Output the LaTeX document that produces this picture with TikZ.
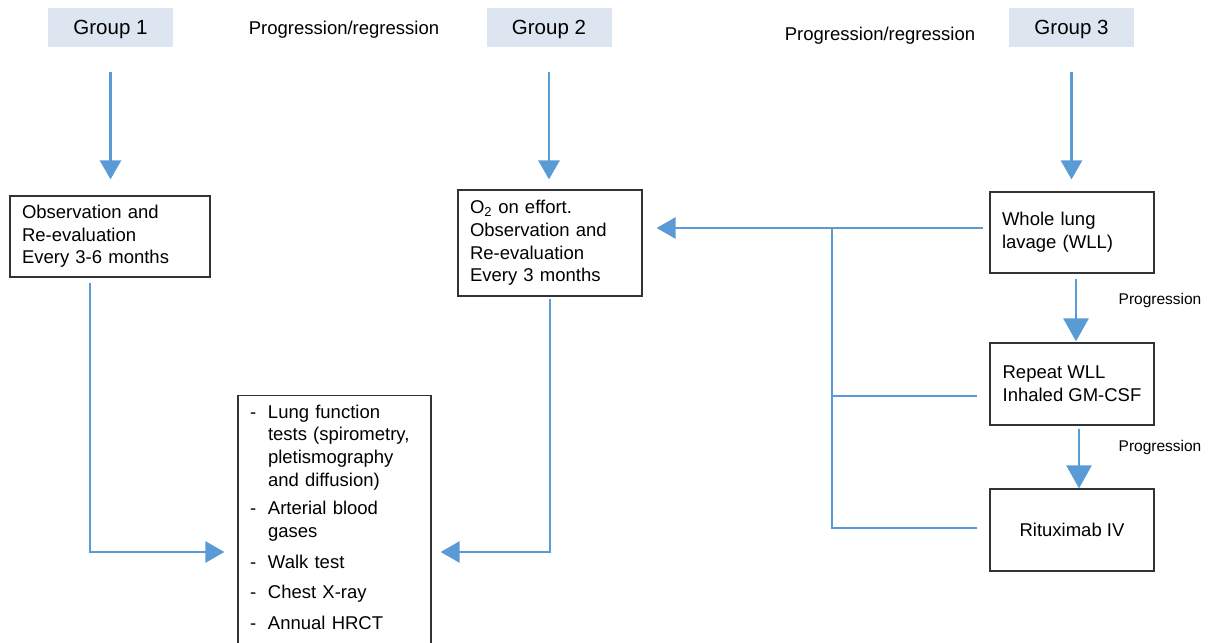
\documentclass[tikz,border=0pt]{standalone}
\usepackage{fontspec}
\setmainfont{Liberation Sans}
\usetikzlibrary{arrows.meta,positioning}
\definecolor{flowblue}{RGB}{91,155,213}
\definecolor{groupfill}{RGB}{221,229,240}
\newcommand\itemdash{\makebox[18pt][l]{-}}
\newcommand\itemind{\hspace*{18pt}}

\begin{document}
\begin{tikzpicture}[x=1pt,y=-1pt,
  group/.style={fill=groupfill,minimum width=125pt,minimum height=39pt,text depth=0pt,font=\fontsize{20.5}{24}\selectfont},
  box/.style={draw=black!80,line width=1.2pt,inner xsep=12pt,align=left,font=\fontsize{18.5}{22.7}\selectfont},
  note/.style={font=\fontsize{18.5}{22}\selectfont},
  small/.style={font=\fontsize{15.5}{18}\selectfont},
  flow/.style={draw=flowblue,line width=2.7pt,-{Triangle[width=21pt,length=19pt]}},
  bigflow/.style={flow,-{Triangle[width=25pt,length=23pt]}},
  link/.style={draw=flowblue,line width=2.7pt}]
\useasboundingbox (0,0) rectangle (1209,642);

\node[group] (g1) at (110.5,27.5) {Group 1};
\node[group] (g2) at (549,27.5) {Group 2};
\node[group] (g3) at (1071.5,27.5) {Group 3};
\node[note] (pr1) at (344,29.5) {Progression/regression};
\node[note] (pr2) at (880,35.5) {Progression/regression};

\node[box,text width=176pt,minimum height=81pt] (obs1) at (110,236.5) {Observation and\\Re-evaluation\\Every 3-6 months};
\node[box,text width=160pt,minimum height=106pt] (o2) at (550,243) {O\textsubscript{2} on effort.\\Observation and\\Re-evaluation\\Every 3 months};
\node[box,text width=140pt,minimum height=81pt] (wll) at (1072,232.5) {Whole lung\\lavage (WLL)};
\node[box,minimum width=164pt,minimum height=82pt] (rep) at (1072,384) {Repeat WLL\\Inhaled GM-CSF};
\node[box,minimum width=164pt,minimum height=82pt] (rit) at (1072,530) {Rituximab IV};
\node[box,text width=169pt,anchor=north,inner ysep=9pt] (tests) at (334.5,395) {%
\itemdash Lung function\\ \itemind tests (spirometry,\\ \itemind pletismography\\ \itemind and diffusion)\\[6pt]
\itemdash Arterial blood\\ \itemind gases\\[8pt]
\itemdash Walk test\\[8pt]
\itemdash Chest X-ray\\[8pt]
\itemdash Annual HRCT\rule[-20pt]{0pt}{0pt}};

\node[small] (pg1) at (1160,300) {Progression};
\node[small] (pg2) at (1160,447) {Progression};

\coordinate (hub) at (832,228);
\coordinate (meet) at (334.5,552);

\draw[flow,shorten <=25pt,shorten >=16pt] (g1.south) -- (g1.south |- obs1.north);
\draw[flow,shorten <=25pt,shorten >=10pt] (g2.south) -- (g2.south |- o2.north);
\draw[flow,shorten <=25pt,shorten >=12pt] (g3.south) -- (g3.south |- wll.north);
\draw[flow,shorten <=6pt,shorten >=14pt] (wll.west |- hub) -- (o2.east |- hub);
\draw[link] ([xshift=-12pt,yshift=-12pt]rep.west) -| (hub);
\draw[link] ([xshift=-12pt,yshift=2pt]rit.west) -| (hub);
\draw[bigflow,shorten <=5pt,shorten >=1pt] ([xshift=4pt]wll.south) -- ([xshift=4pt]wll.south |- rep.north);
\draw[bigflow,shorten <=3pt,shorten >=0pt] ([xshift=7pt]rep.south) -- ([xshift=7pt]rep.south |- rit.north);
\draw[flow,shorten >=13pt] ([xshift=-20pt,yshift=-5pt]obs1.south) |- (meet -| tests.west);
\draw[flow,shorten >=9pt] ([yshift=-2pt]o2.south) |- (meet -| tests.east);
\end{tikzpicture}
\end{document}
